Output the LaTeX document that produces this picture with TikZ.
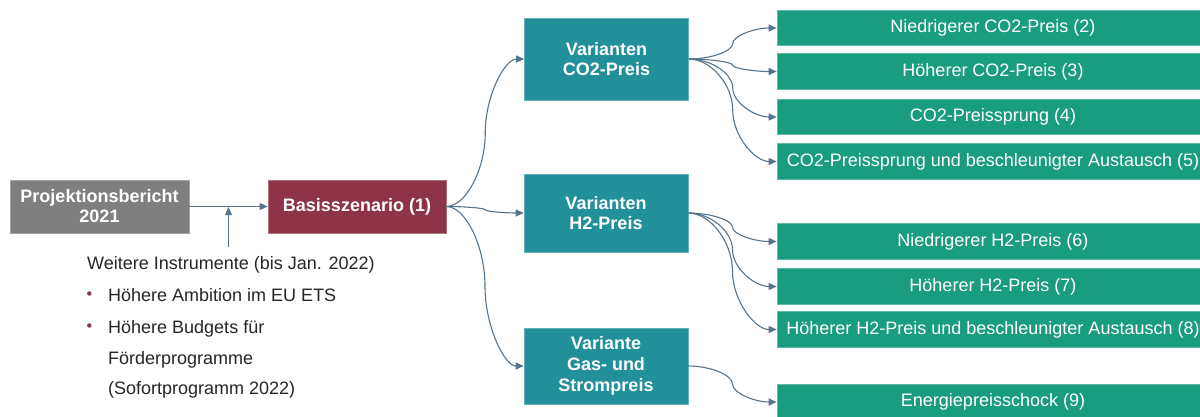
\documentclass[tikz,border=0pt]{standalone}
\usepackage{fontspec}
\setmainfont{Liberation Sans}
\usetikzlibrary{arrows.meta,calc}
\definecolor{boxgray}{RGB}{127,127,127}
\definecolor{maroon}{RGB}{142,52,72}
\definecolor{tealbox}{RGB}{33,144,153}
\definecolor{greenbox}{RGB}{26,157,126}
\definecolor{conn}{RGB}{86,117,140}
\definecolor{txt}{RGB}{38,38,38}
\tikzset{
  x=1pt, y=-1pt,
  basebox/.style={inner sep=0pt, text=white, align=center,
    font=\fontsize{18}{20}\selectfont\bfseries},
  graybox/.style={basebox, fill=boxgray, draw=boxgray!70!white, line width=0.6pt,
    minimum width=179pt, minimum height=53pt},
  redbox/.style={basebox, fill=maroon, draw=maroon!70!white, line width=0.6pt,
    minimum width=178pt, minimum height=53pt},
  varbox/.style={basebox, fill=tealbox, draw=tealbox!70!white, line width=0.6pt,
    minimum width=164pt},
  resbox/.style={inner sep=0pt, text=white, fill=greenbox, draw=greenbox!70!white,
    line width=0.6pt, minimum width=432pt, minimum height=35.5pt,
    font=\fontsize{18}{20}\selectfont},
  listtext/.style={anchor=base west, inner sep=0pt, text=txt,
    font=\fontsize{18}{20}\selectfont},
  bullet/.style={circle, fill=maroon, inner sep=0pt, minimum size=4.4pt},
  arr/.style={draw=conn, line width=1.1pt, -{Triangle[length=8pt,width=7pt]}},
  pptc/.style={to path={let \p1=(\tikztostart), \p2=(\tikztotarget) in
    .. controls ({0.75*\x1+0.25*\x2},\y1) and ({0.5*\x1+0.5*\x2},{0.75*\y1+0.25*\y2})
    .. ({0.5*\x1+0.5*\x2},{0.5*\y1+0.5*\y2})
    .. controls ({0.5*\x1+0.5*\x2},{0.25*\y1+0.75*\y2}) and ({0.25*\x1+0.75*\x2},\y2)
    .. (\x2,\y2) \tikztonodes}}
}
\begin{document}
\begin{tikzpicture}
\useasboundingbox (0,0) rectangle (1200,416);
\clip (0,0) rectangle (1200,416);
\fill[white] (0,0) rectangle (1200,416);

% left part
\node[graybox] (proj) at (99.5,206.5) {Projektionsbericht\\2021};
\node[redbox] (basis) at (357,206.5) {Basisszenario (1)};

% variant boxes
\node[varbox, minimum height=82pt] (vco2) at (606.5,59) {Varianten\\CO2-Preis};
\node[varbox, minimum height=78pt] (vh2) at (606,213) {Varianten\\H2-Preis};
\node[varbox, minimum height=76pt, font=\fontsize{18}{21}\selectfont\bfseries] (vgas) at (606,366) {Variante\\Gas- und\\Strompreis};

% result boxes
\node[resbox] (r2) at (993,28) {Niedrigerer CO2-Preis (2)};
\node[resbox] (r3) at (993,71.5) {Höherer CO2-Preis (3)};
\node[resbox] (r4) at (993,117) {CO2-Preissprung (4)};
\node[resbox] (r5) at (993,161.5) {CO2-Preissprung und beschleunigter Austausch (5)};
\node[resbox] (r6) at (993,241.5) {Niedrigerer H2-Preis (6)};
\node[resbox] (r7) at (993,286.5) {Höherer H2-Preis (7)};
\node[resbox] (r8) at (993,329.5) {Höherer H2-Preis und beschleunigter Austausch (8)};
\node[resbox] (r9) at (993,402) {Energiepreisschock (9)};

% list text
\node[listtext] (l0) at (87,269.5) {Weitere Instrumente (bis Jan. 2022)};
\node[bullet] (b1) at (89.3,293.5) {};
\node[listtext] (l1) at (108,301.5) {Höhere Ambition im EU ETS};
\node[bullet] (b2) at (89.3,325.5) {};
\node[listtext] (l2) at (108,333.5) {Höhere Budgets für};
\node[listtext] (l3) at (108,364.5) {Förderprogramme};
\node[listtext] (l4) at (108,394.5) {(Sofortprogramm 2022)};

% connectors
\coordinate (join) at ($(proj.east)!0.5!(basis.west)$);
\coordinate (stub) at (join |- 0,247);
\draw[arr] (proj.east) -- (basis.west);
\draw[arr, shorten >=0.5pt] (stub) -- (join);

\draw[arr] (basis.east) to[pptc] (vco2.west);
\draw[arr] (basis.east) to[pptc] (vh2.west);
\draw[arr] (basis.east) to[pptc] (vgas.west);

\draw[arr] (vco2.east) to[pptc] (r2.west);
\draw[arr] (vco2.east) to[pptc] (r3.west);
\draw[arr] (vco2.east) to[pptc] (r4.west);
\draw[arr] (vco2.east) to[pptc] (r5.west);

\draw[arr] (vh2.east) to[pptc] (r6.west);
\draw[arr] (vh2.east) to[pptc] (r7.west);
\draw[arr] (vh2.east) to[pptc] (r8.west);

\draw[arr] (vgas.east) to[pptc] (r9.west);
\end{tikzpicture}
\end{document}
